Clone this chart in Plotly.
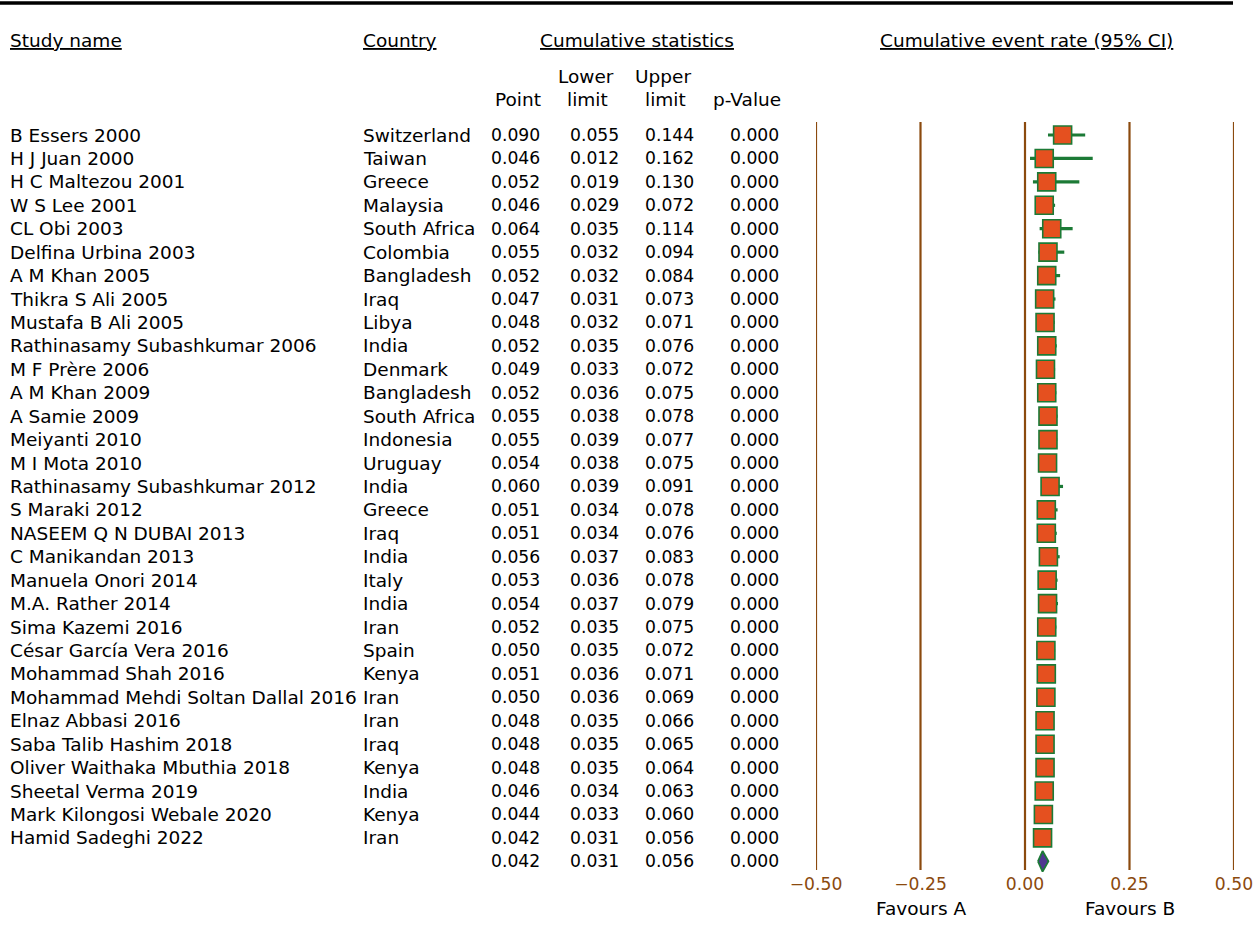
import plotly.graph_objects as go

# ---- data ----
studies = [
    "B Essers 2000", "H J Juan 2000", "H C Maltezou 2001", "W S Lee 2001",
    "CL Obi 2003", "Delfina Urbina 2003", "A M Khan 2005", "Thikra S Ali 2005",
    "Mustafa B Ali 2005", "Rathinasamy Subashkumar 2006", "M F Prère 2006",
    "A M Khan 2009", "A Samie 2009", "Meiyanti 2010", "M I Mota 2010",
    "Rathinasamy Subashkumar 2012", "S Maraki 2012", "NASEEM Q N DUBAI 2013",
    "C Manikandan 2013", "Manuela Onori 2014", "M.A. Rather 2014",
    "Sima Kazemi 2016", "César García Vera 2016", "Mohammad Shah 2016",
    "Mohammad Mehdi Soltan Dallal 2016", "Elnaz Abbasi 2016",
    "Saba Talib Hashim 2018", "Oliver Waithaka Mbuthia 2018",
    "Sheetal Verma 2019", "Mark Kilongosi Webale 2020", "Hamid Sadeghi 2022",
]
countries = [
    "Switzerland", "Taiwan", "Greece", "Malaysia", "South Africa", "Colombia",
    "Bangladesh", "Iraq", "Libya", "India", "Denmark", "Bangladesh",
    "South Africa", "Indonesia", "Uruguay", "India", "Greece", "Iraq", "India",
    "Italy", "India", "Iran", "Spain", "Kenya", "Iran", "Iran", "Iraq", "Kenya",
    "India", "Kenya", "Iran",
]
point = [0.090, 0.046, 0.052, 0.046, 0.064, 0.055, 0.052, 0.047, 0.048, 0.052,
         0.049, 0.052, 0.055, 0.055, 0.054, 0.060, 0.051, 0.051, 0.056, 0.053,
         0.054, 0.052, 0.050, 0.051, 0.050, 0.048, 0.048, 0.048, 0.046, 0.044,
         0.042]
lower = [0.055, 0.012, 0.019, 0.029, 0.035, 0.032, 0.032, 0.031, 0.032, 0.035,
         0.033, 0.036, 0.038, 0.039, 0.038, 0.039, 0.034, 0.034, 0.037, 0.036,
         0.037, 0.035, 0.035, 0.036, 0.036, 0.035, 0.035, 0.035, 0.034, 0.033,
         0.031]
upper = [0.144, 0.162, 0.130, 0.072, 0.114, 0.094, 0.084, 0.073, 0.071, 0.076,
         0.072, 0.075, 0.078, 0.077, 0.075, 0.091, 0.078, 0.076, 0.083, 0.078,
         0.079, 0.075, 0.072, 0.071, 0.069, 0.066, 0.065, 0.064, 0.063, 0.060,
         0.056]
p_value = [0.000] * len(studies)

summary_point, summary_lower, summary_upper, summary_p = 0.042, 0.031, 0.056, 0.000

x_ticks = [-0.50, -0.25, 0.00, 0.25, 0.50]

# ---- style ----
W, H = 1255, 945
FONT = "DejaVu Sans"
FS = 18.5      # names, countries, headers
FS_NUM = 17.2  # numeric columns and tick labels
BROWN = "#8B4A0E"
GREEN = "#1C7A36"
ORANGE = "#E5501F"
PURPLE = "#4E3790"

n = len(studies)
rows = list(range(n))
summary_row = n

# row r is drawn at pixel 135 + 23.43*r ; plot area spans pixels 0..872
ROW_H = 23.43
Y0 = 135.0
PLOT_BOTTOM = 872.0


def row_of(px):
    return (px - Y0) / ROW_H


def fmt_tick(v):
    s = f"{abs(v):.2f}"
    return ("\u2212" + s) if v < 0 else s


fig = go.Figure()

# confidence intervals + square markers
fig.add_trace(go.Scatter(
    x=point, y=rows, mode="markers",
    marker=dict(symbol="square", size=18, color=ORANGE,
                line=dict(color=GREEN, width=1.6)),
    error_x=dict(type="data", symmetric=False,
                 array=[u - p for u, p in zip(upper, point)],
                 arrayminus=[p - l for p, l in zip(point, lower)],
                 color=GREEN, thickness=3.2, width=0),
    hoverinfo="skip", showlegend=False,
))

# summary diamond
dh = 0.44
fig.add_trace(go.Scatter(
    x=[summary_lower, summary_point, summary_upper, summary_point, summary_lower],
    y=[summary_row, summary_row - dh, summary_row, summary_row + dh, summary_row],
    mode="lines", fill="toself", fillcolor=PURPLE,
    line=dict(color=GREEN, width=1.8),
    hoverinfo="skip", showlegend=False,
))

shapes = []
# vertical reference lines at each tick
for t in x_ticks:
    shapes.append(dict(type="line", xref="x", yref="y", x0=t, x1=t,
                       y0=row_of(122), y1=row_of(870),
                       line=dict(color=BROWN, width=2.2), layer="below"))
# top rule
shapes.append(dict(type="line", xref="paper", yref="paper",
                   x0=0, x1=1233 / W, y0=1 - 3 / H, y1=1 - 3 / H,
                   line=dict(color="black", width=3.5)))

annotations = []


def txt(x, y, s, anchor="left", color="black", xref="paper", yref="y", size=FS):
    annotations.append(dict(x=x, y=y, xref=xref, yref=yref, text=s,
                            showarrow=False, xanchor=anchor, yanchor="middle",
                            font=dict(family=FONT, size=size, color=color),
                            borderpad=0))


# column headers
hy = row_of(40)
txt(9 / W, hy, "<u>Study name</u>")
txt(362 / W, hy, "<u>Country</u>")
txt(637 / W, hy, "<u>Cumulative statistics</u>", anchor="center")
txt(1026 / W, hy, "<u>Cumulative event rate (95% CI)</u>", anchor="center")

h1, h2 = row_of(76), row_of(99)
txt(586 / W, h1, "Lower", anchor="center")
txt(663 / W, h1, "Upper", anchor="center")
txt(542 / W, h2, "Point", anchor="right")
txt(587 / W, h2, "limit", anchor="center")
txt(665 / W, h2, "limit", anchor="center")
txt(782 / W, h2, "p-Value", anchor="right")

COL_PT, COL_LO, COL_UP, COL_P = 541 / W, 620 / W, 695 / W, 780 / W

for r in rows:
    txt(9 / W, r, studies[r])
    txt(362 / W, r, countries[r])
    txt(COL_PT, r, f"{point[r]:.3f}", anchor="right", size=FS_NUM)
    txt(COL_LO, r, f"{lower[r]:.3f}", anchor="right", size=FS_NUM)
    txt(COL_UP, r, f"{upper[r]:.3f}", anchor="right", size=FS_NUM)
    txt(COL_P, r, f"{p_value[r]:.3f}", anchor="right", size=FS_NUM)

txt(COL_PT, summary_row, f"{summary_point:.3f}", anchor="right", size=FS_NUM)
txt(COL_LO, summary_row, f"{summary_lower:.3f}", anchor="right", size=FS_NUM)
txt(COL_UP, summary_row, f"{summary_upper:.3f}", anchor="right", size=FS_NUM)
txt(COL_P, summary_row, f"{summary_p:.3f}", anchor="right", size=FS_NUM)

# favours labels under the axis
txt(-0.25, 1 - 908 / H, "Favours A", anchor="center", xref="x", yref="paper")
txt(0.25, 1 - 908 / H, "Favours B", anchor="center", xref="x", yref="paper")

fig.update_layout(
    width=W, height=H,
    margin=dict(l=0, r=0, t=0, b=0, autoexpand=False),
    paper_bgcolor="white", plot_bgcolor="white",
    shapes=shapes, annotations=annotations,
    xaxis=dict(domain=[816 / W, 1234 / W], range=[-0.5, 0.5],
               tickvals=x_ticks, ticktext=[fmt_tick(t) for t in x_ticks],
               showgrid=False, zeroline=False, showline=False, ticks="",
               tickfont=dict(family=FONT, size=FS_NUM, color=BROWN),
               fixedrange=True),
    yaxis=dict(domain=[1 - PLOT_BOTTOM / H, 1],
               range=[row_of(PLOT_BOTTOM), row_of(0)],
               showgrid=False, zeroline=False, showline=False,
               showticklabels=False, ticks="", fixedrange=True),
    showlegend=False,
)

fig.write_html("out.html")
